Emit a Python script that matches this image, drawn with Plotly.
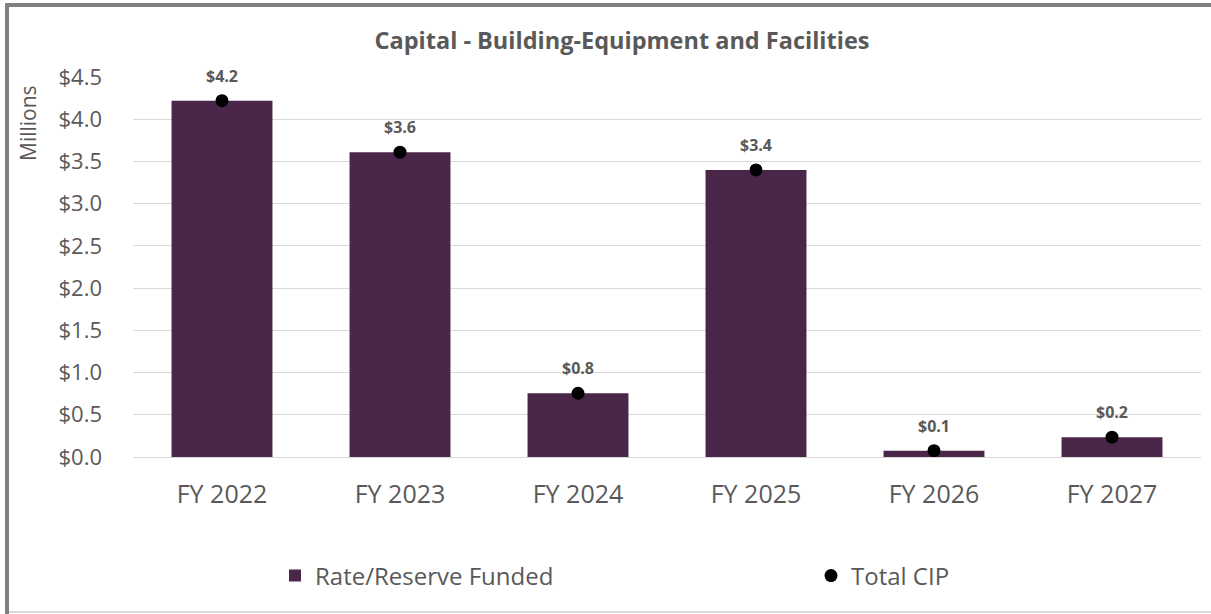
import plotly.graph_objects as go

categories = ["FY 2022", "FY 2023", "FY 2024", "FY 2025", "FY 2026", "FY 2027"]
rate_reserve = [4.22, 3.61, 0.755, 3.40, 0.075, 0.235]
total_cip = [4.22, 3.61, 0.755, 3.40, 0.075, 0.235]
y_ticks = [0, 0.5, 1.0, 1.5, 2.0, 2.5, 3.0, 3.5, 4.0, 4.5]

W, H = 1211, 614
L, R, T, B = 133, 10, 77, 157
pw, ph = W - L - R, H - T - B

def px_x(x):
    return (x - L) / pw

def px_y(y):
    return (H - B - y) / ph

GRAY = "#595959"
FONT = "Open Sans"

fig = go.Figure()
fig.add_trace(go.Bar(
    x=categories, y=rate_reserve, name="Rate/Reserve Funded",
    marker=dict(color="#4A2649", line=dict(width=0)), width=0.567,
    legend="legend",
))
fig.add_trace(go.Scatter(
    x=categories, y=total_cip, name="Total CIP", mode="markers",
    marker=dict(color="black", size=13, symbol="circle"),
    legend="legend2",
))

for c, v in zip(categories, total_cip):
    fig.add_annotation(x=c, y=v, text=f"<b>${v:.1f}</b>", showarrow=False,
                       yshift=25, font=dict(family=FONT, size=16, color=GRAY))

fig.add_annotation(xref="paper", yref="paper", x=px_x(28), y=px_y(123),
                   xanchor="center", yanchor="middle",
                   text="Millions", textangle=-90, showarrow=False,
                   font=dict(family=FONT, size=21, color=GRAY))

# frame
fig.add_shape(type="line", xref="paper", yref="paper", x0=px_x(5), x1=px_x(1215),
              y0=px_y(5), y1=px_y(5), line=dict(color="#808080", width=4))
fig.add_shape(type="line", xref="paper", yref="paper", x0=px_x(7), x1=px_x(7),
              y0=px_y(3), y1=px_y(620), line=dict(color="#808080", width=4))
fig.add_shape(type="line", xref="paper", yref="paper", x0=px_x(9), x1=px_x(1215),
              y0=px_y(612), y1=px_y(612), line=dict(color="#d9d9d9", width=2))

leg_font = dict(family=FONT, size=24, color=GRAY)
fig.update_layout(
    width=W, height=H,
    margin=dict(l=L, r=R, t=T, b=B, autoexpand=False),
    paper_bgcolor="white", plot_bgcolor="white",
    title=dict(text="<b>Capital - Building-Equipment and Facilities</b>",
               x=px_x(622), xanchor="center", xref="paper",
               y=1 - 41 / H, yanchor="middle",
               font=dict(family=FONT, size=23.5, color=GRAY)),
    font=dict(family=FONT, color=GRAY),
    showlegend=True,
    legend=dict(orientation="h", x=px_x(275), y=px_y(576), yanchor="middle",
                xanchor="left", font=leg_font, bgcolor="rgba(0,0,0,0)"),
    legend2=dict(orientation="h", x=px_x(811), y=px_y(576), yanchor="middle",
                 xanchor="left", font=leg_font, bgcolor="rgba(0,0,0,0)"),
    xaxis=dict(tickfont=dict(family=FONT, size=25, color=GRAY), showgrid=False,
               showline=False, ticks="", ticklabelstandoff=20),
    yaxis=dict(range=[0, 4.5], tickvals=y_ticks,
               ticktext=[f"${v:.1f}" for v in y_ticks],
               tickfont=dict(family=FONT, size=22, color=GRAY),
               showgrid=True, gridcolor="#d9d9d9", gridwidth=1,
               zeroline=True, zerolinecolor="#d9d9d9", zerolinewidth=1,
               showline=False, ticks="", ticklabelstandoff=30),
)

fig.write_html("out.html", config={"displayModeBar": False},
               post_script="document.body.style.margin='0';document.body.style.overflow='hidden';")
